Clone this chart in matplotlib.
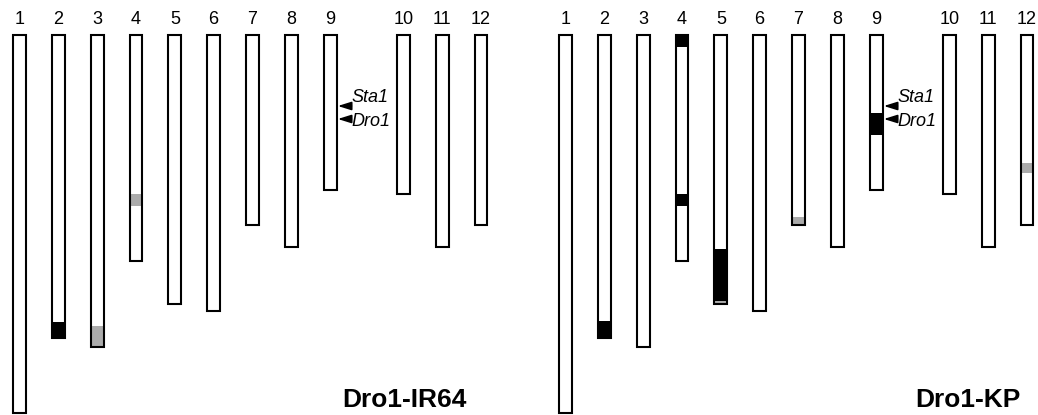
import matplotlib
matplotlib.use("Agg")
import matplotlib.pyplot as plt

# chromosome lengths (cM) and numbering
chroms = [1, 2, 3, 4, 5, 6, 7, 8, 9, 10, 11, 12]
lengths = [189, 151.5, 156, 113, 134.5, 138, 95, 106, 77.5, 79.5, 106, 95]

# introgressed segments: (chromosome, start cM, end cM, kind)
seg_ir64 = [(2, 143.3, 151.5, "black"), (3, 145.5, 156, "gray"), (4, 79.5, 85.5, "gray")]
seg_kp = [(2, 143, 151.5, "black"), (4, 0, 5.8, "black"), (4, 79.5, 85.5, "black"),
          (5, 107, 133, "black"), (5, 133, 134.5, "gray"), (7, 91, 95, "gray"),
          (9, 39, 50, "black"), (12, 64, 69, "gray")]

# loci on chromosome 9
loci = ["Sta1", "Dro1"]
loci_pos = [35.5, 42]
loci_chrom = 9

panels = ["Dro1-IR64", "Dro1-KP"]

colors = {"black": "black", "gray": "#ababab"}
plt.rcParams['font.family'] = ['Liberation Sans', 'DejaVu Sans']

W, H = 1038, 415
fig = plt.figure(figsize=(W / 100, H / 100), dpi=100)

unit = 38.85      # px per chromosome slot
bar_w = 0.33


def xpos(c):
    return c if c <= 9 else c + 0.88


def draw_panel(ax, segs, title, title_x):
    xs = [xpos(c) for c in chroms]
    ax.bar(xs, lengths, bottom=0, width=bar_w, color="white", linewidth=0, zorder=1)
    for c, a, b, kind in segs:
        ax.bar(xpos(c), b - a, bottom=a, width=bar_w, color=colors[kind], linewidth=0, zorder=2)
    ax.bar(xs, lengths, bottom=0, width=bar_w, facecolor="none", edgecolor="black",
           linewidth=1.5, zorder=3)
    for c, x in zip(chroms, xs):
        ax.text(x, -7.5, str(c), ha="center", va="center", fontsize=13)
    xr = xpos(loci_chrom) + bar_w / 2
    for name, p, dy in zip(loci, loci_pos, [-4.5, 1.0]):
        ax.annotate("", xy=(xr + 0.03, p), xytext=(xr + 0.38, p),
                    arrowprops=dict(arrowstyle="-|>,head_length=0.8,head_width=0.25",
                                    color="black", lw=1.2, shrinkA=0, shrinkB=0))
        ax.text(xr + 0.39, p + dy, name, ha="left", va="center", fontsize=13, style="italic")
    ax.text(title_x, 186, title, ha="left", va="baseline", fontsize=19, fontweight="bold")
    ax.set_ylim(190, -17.5)
    ax.axis("off")


# left panel
ax1 = fig.add_axes([0, 0, 519 / W, 1])
ax1.set_xlim(0.5, 0.5 + 519 / unit)
draw_panel(ax1, seg_ir64, panels[0], 1 + (343 - 19.7) / unit)

# right panel
ax2 = fig.add_axes([546 / W, 0, (W - 546) / W, 1])
ax2.set_xlim(0.5, 0.5 + (W - 546) / unit)
draw_panel(ax2, seg_kp, panels[1], 1 + (916 - 565.8) / unit)

fig.savefig("out.png", dpi=100)
